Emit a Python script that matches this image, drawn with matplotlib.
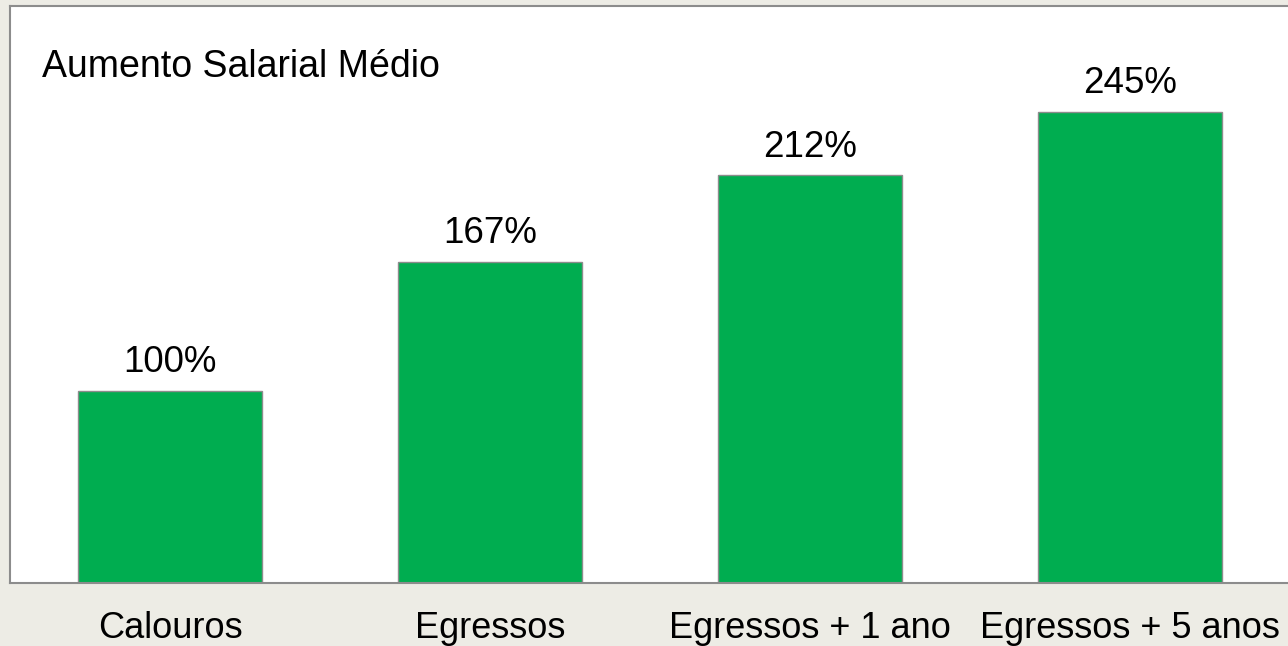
"""Aumento salarial médio por grupo (calouros / egressos)."""

import matplotlib
matplotlib.use("Agg")
import matplotlib.pyplot as plt
import numpy as np

_GREEN = "#00AD50"
_EDGE = "#8C8C8C"
_BG = "#EDECE5"

categories = ["Calouros", "Egressos", "Egressos + 1 ano", "Egressos + 5 anos"]
aumento_pct = [100, 167, 212, 245]
title = "Aumento Salarial Médio"

plt.rcParams["font.family"] = ["Liberation Sans", "DejaVu Sans"]

W, H = 1288, 646
fig = plt.figure(figsize=(W / 100, H / 100), dpi=100, facecolor=_BG)

# plot area: left 10px, top 6px, bottom 583px, runs just past the right edge
ax = fig.add_axes([10 / W, (H - 583) / H, 1280 / W, 577 / H])
ax.set_facecolor("white")

x = np.arange(len(categories))
ax.bar(x, aumento_pct, width=0.572, color=_GREEN, edgecolor=_EDGE, linewidth=1.0)

for xi, v in zip(x, aumento_pct):
    ax.annotate(f"{v}%", (xi, v), xytext=(0, 13.5), textcoords="offset points",
                ha="center", va="baseline", fontsize=26.5)

ax.set_xlim(-0.5, 3.5)
ax.set_ylim(0, 300)
ax.set_yticks([])
ax.set_xticks(x)
ax.set_xticklabels(categories, fontsize=26)
ax.tick_params(axis="x", length=0, pad=20)

for s in ax.spines.values():
    s.set_color(_EDGE)
    s.set_linewidth(1.5)

ax.text(0.025, 0.877, title, transform=ax.transAxes, ha="left", va="baseline",
        fontsize=27)

fig.savefig("out.png", dpi=100, facecolor=_BG)
